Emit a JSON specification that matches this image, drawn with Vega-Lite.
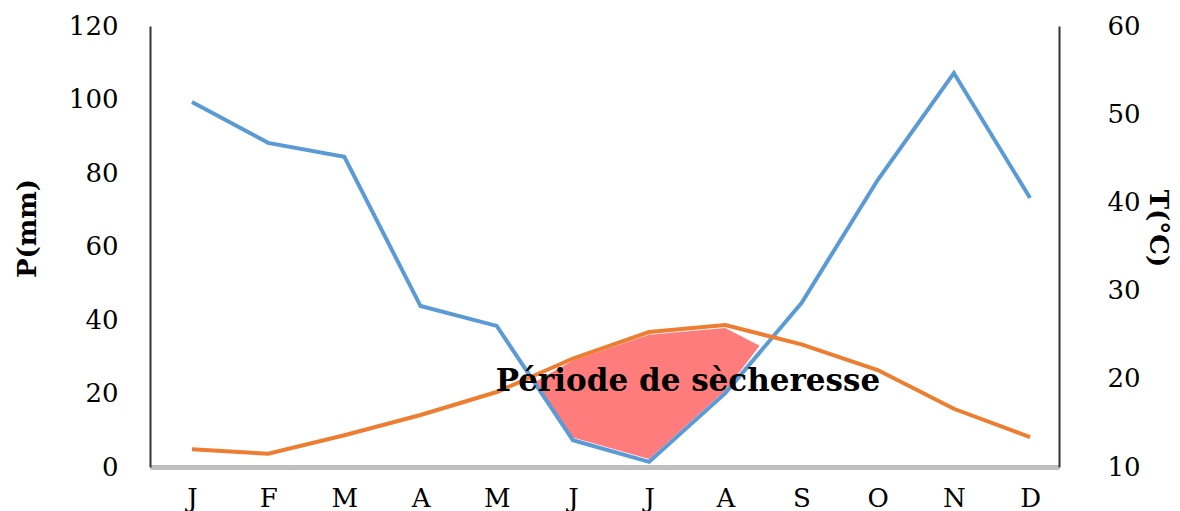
{
  "$schema": "https://vega.github.io/schema/vega-lite/v6.json",
  "width": 909,
  "height": 441,
  "autosize": {"type": "none"},
  "padding": {"left": 150, "top": 26, "right": 121, "bottom": 44},
  "background": "white",
  "config": {
    "view": {"stroke": null},
    "font": "DejaVu Serif",
    "axis": {"labelFont": "DejaVu Serif", "titleFont": "DejaVu Serif", "labelColor": "#000", "titleColor": "#000", "grid": false, "ticks": false}
  },
  "datasets": {
    "climate": [
      {"month": 1, "P": 99.3, "T": 12.0},
      {"month": 2, "P": 88.2, "T": 11.5},
      {"month": 3, "P": 84.4, "T": 13.6},
      {"month": 4, "P": 43.8, "T": 15.9},
      {"month": 5, "P": 38.4, "T": 18.5},
      {"month": 6, "P": 7.3, "T": 22.3},
      {"month": 7, "P": 1.4, "T": 25.3},
      {"month": 8, "P": 20.1, "T": 26.1},
      {"month": 9, "P": 44.6, "T": 23.9},
      {"month": 10, "P": 78.1, "T": 21.0},
      {"month": 11, "P": 107.2, "T": 16.6},
      {"month": 12, "P": 73.2, "T": 13.4}
    ],
    "dry": [
      {"month": 5.5, "upper": 23.1, "lower": 23.1},
      {"month": 6, "upper": 29.0, "lower": 8.0},
      {"month": 7, "upper": 36.0, "lower": 2.2},
      {"month": 8, "upper": 37.8, "lower": 20.8},
      {"month": 8.45, "upper": 33.0, "lower": 33.0}
    ],
    "note": [
      {"month": 7.51, "P": 23.1, "label": "Période de sècheresse"}
    ]
  },
  "encoding": {
    "x": {
      "field": "month",
      "type": "quantitative",
      "scale": {"domain": [0.449, 12.38], "nice": false, "zero": false},
      "axis": {
        "values": [1, 2, 3, 4, 5, 6, 7, 8, 9, 10, 11, 12],
        "labelExpr": "['J','F','M','A','M','J','J','A','S','O','N','D'][datum.value - 1]",
        "title": null,
        "domainColor": "#bfbfbf",
        "domainWidth": 5,
        "labelFontSize": 26,
        "labelPadding": 18,
        "labelFlush": false
      }
    }
  },
  "layer": [
    {
      "data": {"name": "dry"},
      "mark": {"type": "area", "color": "#ff1010", "opacity": 0.55},
      "encoding": {
        "y": {"field": "upper", "type": "quantitative", "scale": {"domain": [0, 120], "nice": false}, "axis": null},
        "y2": {"field": "lower"}
      }
    },
    {
      "data": {"name": "climate"},
      "mark": {"type": "line", "color": "#5b9bd5", "strokeWidth": 4},
      "encoding": {
        "y": {
          "field": "P",
          "type": "quantitative",
          "scale": {"domain": [0, 120], "nice": false},
          "axis": {
            "orient": "left",
            "values": [0, 20, 40, 60, 80, 100, 120],
            "title": "P(mm)",
            "titleFontSize": 26,
            "titleFontWeight": "bold",
            "titleAngle": -90,
            "titleX": -123,
            "titleY": 202,
            "titleAlign": "center",
            "titleBaseline": "middle",
            "labelFontSize": 26,
            "labelPadding": 32,
            "domainColor": "#333",
            "domainWidth": 2
          }
        }
      }
    },
    {
      "data": {"name": "climate"},
      "mark": {"type": "line", "color": "#ed7d31", "strokeWidth": 4},
      "encoding": {
        "y": {
          "field": "T",
          "type": "quantitative",
          "scale": {"domain": [10, 60], "nice": false, "zero": false},
          "axis": {
            "orient": "right",
            "values": [10, 20, 30, 40, 50, 60],
            "title": "T(°C)",
            "titleFontSize": 26,
            "titleFontWeight": "bold",
            "titleAngle": 90,
            "titleX": 98,
            "titleY": 202,
            "titleAlign": "center",
            "titleBaseline": "middle",
            "labelFontSize": 26,
            "labelPadding": 48,
            "domainColor": "#333",
            "domainWidth": 2
          }
        }
      }
    },
    {
      "data": {"name": "note"},
      "mark": {"type": "text", "font": "DejaVu Serif", "fontWeight": "bold", "fontSize": 31, "color": "#000", "align": "center", "baseline": "middle"},
      "encoding": {
        "y": {"field": "P", "type": "quantitative", "scale": {"domain": [0, 120], "nice": false}, "axis": null},
        "text": {"field": "label"}
      }
    }
  ],
  "resolve": {"scale": {"y": "independent"}}
}
